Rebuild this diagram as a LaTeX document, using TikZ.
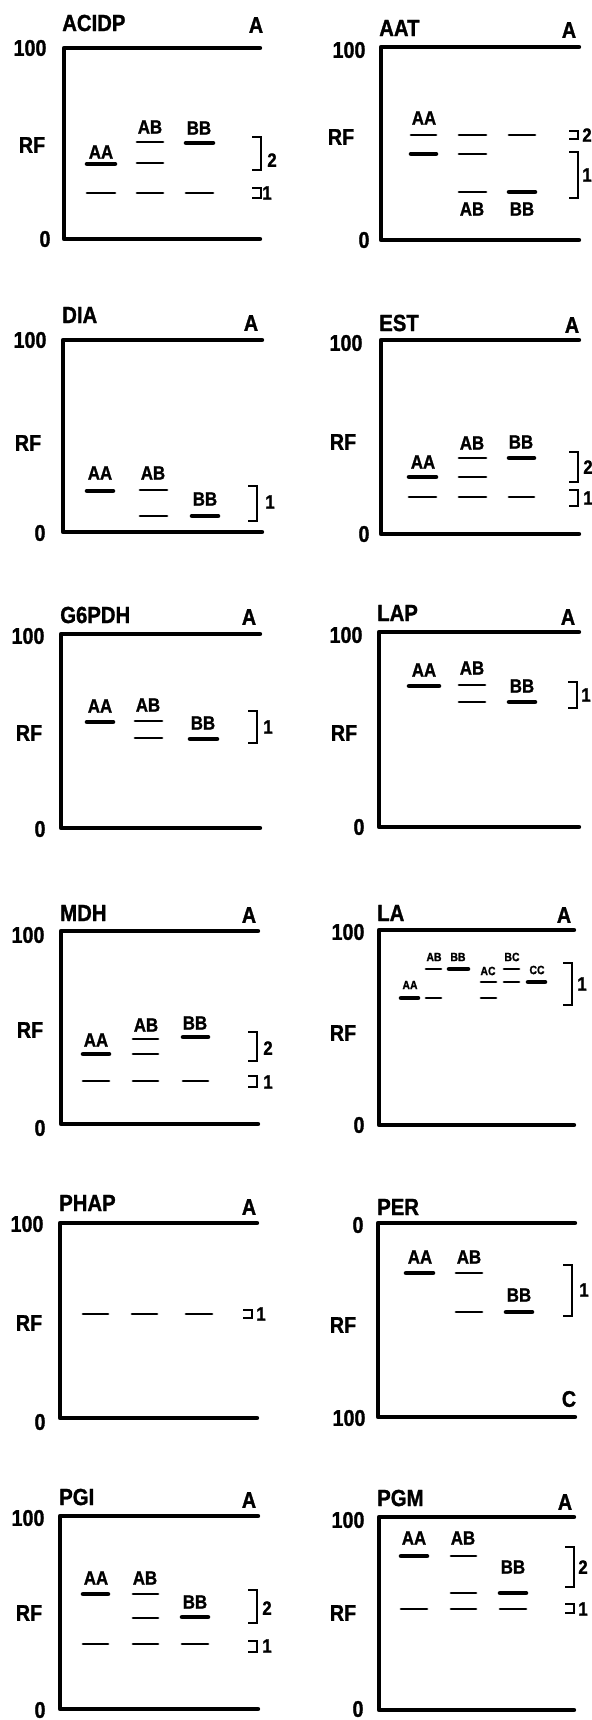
\documentclass[tikz,border=0pt]{standalone}
\usepackage{fontspec}
\setmainfont{Liberation Sans}[FakeStretch=0.87, BoldFeatures={FakeBold=1.2}]
\newcommand\fs[1]{\fontsize{#1}{#1}\selectfont\bfseries}
\tikzset{
  axis/.style={line width=3.3pt,line cap=round,line join=round},
  band/.style={line width=2.2pt,line cap=round},
  tband/.style={line width=3.4pt,line cap=round},
  brkl/.style={line width=1.6pt,line join=miter},
  ttl/.style={anchor=west,inner sep=0pt,font=\fs{17.5}},
  axl/.style={inner sep=0pt,font=\fs{17}},
  lbl/.style={inner sep=0pt,font=\fs{14.5}},
  slbl/.style={inner sep=0pt,font=\fs{9}},
  num/.style={inner sep=0pt,font=\fs{14.5}},
}
\newcommand\brk[3]{\draw[brkl] (#1,#2) -- (#1+9,#2) -- (#1+9,#3) -- (#1,#3);}
\begin{document}
\begin{tikzpicture}[x=0.75pt,y=-0.75pt]
\useasboundingbox (0,0) rectangle (592,1720);
% ---------- ACIDP
\draw[axis] (260,48) -- (64,48) -- (64,239) -- (260,239);
\node[ttl] (t1) at (62,23) {ACIDP};
\node[axl] (a1) at (256,25) {A};
\node[axl] (h1) at (30,48) {100};
\node[axl] (r1) at (32,145) {RF};
\node[axl] (z1) at (45,239) {0};
\draw[tband] (87,164) -- (115,164); \draw[band] (87,193) -- (115,193);
\draw[band] (137,142) -- (163,142); \draw[band] (137,163) -- (163,163); \draw[band] (137,193) -- (163,193);
\draw[tband] (186,143) -- (213,143); \draw[band] (186,193) -- (213,193);
\node[lbl] (l1a) at (101,152) {AA};
\node[lbl] (l1b) at (150,127) {AB};
\node[lbl] (l1c) at (199,128) {BB};
\brk{252}{137}{170} \node[num] (n1a) at (272,160) {2};
\brk{252}{188}{198} \node[num] (n1b) at (267,193) {1};
% ---------- AAT
\draw[axis] (579,47) -- (381,47) -- (381,240) -- (579,240);
\node[ttl] (t2) at (379,28) {AAT};
\node[axl] (a2) at (569,30) {A};
\node[axl] (h2) at (349,50) {100};
\node[axl] (r2) at (341,137) {RF};
\node[axl] (z2) at (364,240) {0};
\draw[band] (411,135) -- (436,135); \draw[tband] (411,154) -- (436,154);
\draw[band] (459,135) -- (486,135); \draw[band] (459,154) -- (486,154); \draw[band] (459,192) -- (486,192);
\draw[band] (509,135) -- (535,135); \draw[tband] (509,192) -- (535,192);
\node[lbl] (l2a) at (424,118) {AA};
\node[lbl] (l2b) at (472,209) {AB};
\node[lbl] (l2c) at (522,209) {BB};
\brk{569}{131}{139} \node[num] (n2a) at (587,135) {2};
\brk{569}{152}{198} \node[num] (n2b) at (587,175) {1};
% ---------- DIA
\draw[axis] (262,340) -- (63,340) -- (63,532) -- (262,532);
\node[ttl] (t3) at (62,315) {DIA};
\node[axl] (a3) at (251,323) {A};
\node[axl] (h3) at (30,340) {100};
\node[axl] (r3) at (28,443) {RF};
\node[axl] (z3) at (40,533) {0};
\draw[tband] (87,491) -- (113,491);
\draw[band] (140,490) -- (167,490); \draw[band] (140,516) -- (167,516);
\draw[tband] (192,516) -- (218,516);
\node[lbl] (l3a) at (100,473) {AA};
\node[lbl] (l3b) at (153,473) {AB};
\node[lbl] (l3c) at (205,499) {BB};
\brk{248}{486}{521} \node[num] (n3a) at (270,502) {1};
% ---------- EST
\draw[axis] (579,340) -- (381,340) -- (381,534) -- (579,534);
\node[ttl] (t4) at (379,323) {EST};
\node[axl] (a4) at (572,325) {A};
\node[axl] (h4) at (346,343) {100};
\node[axl] (r4) at (343,442) {RF};
\node[axl] (z4) at (364,534) {0};
\draw[tband] (409,477) -- (436,477); \draw[band] (409,497) -- (436,497);
\draw[band] (459,458) -- (486,458); \draw[band] (459,477) -- (486,477); \draw[band] (459,497) -- (486,497);
\draw[tband] (509,458) -- (534,458); \draw[band] (509,497) -- (534,497);
\node[lbl] (l4a) at (423,462) {AA};
\node[lbl] (l4b) at (472,443) {AB};
\node[lbl] (l4c) at (521,442) {BB};
\brk{569}{452}{482} \node[num] (n4a) at (588,467) {2};
\brk{569}{490}{506} \node[num] (n4b) at (588,498) {1};
% ---------- G6PDH
\draw[axis] (260,634) -- (61,634) -- (61,828) -- (260,828);
\node[ttl] (t5) at (60,615) {G6PDH};
\node[axl] (a5) at (249,617) {A};
\node[axl] (h5) at (28,636) {100};
\node[axl] (r5) at (29,733) {RF};
\node[axl] (z5) at (40,829) {0};
\draw[tband] (87,722) -- (113,722);
\draw[band] (135,721) -- (162,721); \draw[band] (135,738) -- (162,738);
\draw[tband] (190,739) -- (217,739);
\node[lbl] (l5a) at (100,706) {AA};
\node[lbl] (l5b) at (148,705) {AB};
\node[lbl] (l5c) at (203,723) {BB};
\brk{248}{711}{743} \node[num] (n5a) at (268,727) {1};
% ---------- LAP
\draw[axis] (579,632) -- (379,632) -- (379,827) -- (579,827);
\node[ttl] (t6) at (377,613) {LAP};
\node[axl] (a6) at (568,617) {A};
\node[axl] (h6) at (346,635) {100};
\node[axl] (r6) at (344,733) {RF};
\node[axl] (z6) at (359,827) {0};
\draw[tband] (409,686) -- (439,686);
\draw[band] (459,685) -- (485,685); \draw[band] (459,702) -- (485,702);
\draw[tband] (509,702) -- (535,702);
\node[lbl] (l6a) at (424,670) {AA};
\node[lbl] (l6b) at (472,668) {AB};
\node[lbl] (l6c) at (522,686) {BB};
\brk{568}{682}{708} \node[num] (n6a) at (586,695) {1};
% ---------- MDH
\draw[axis] (258,931) -- (61,931) -- (61,1124) -- (258,1124);
\node[ttl] (t7) at (60,913) {MDH};
\node[axl] (a7) at (249,915) {A};
\node[axl] (h7) at (28,935) {100};
\node[axl] (r7) at (30,1030) {RF};
\node[axl] (z7) at (40,1128) {0};
\draw[tband] (83,1054) -- (109,1054); \draw[band] (83,1081) -- (109,1081);
\draw[band] (133,1039) -- (158,1039); \draw[band] (133,1054) -- (158,1054); \draw[band] (133,1081) -- (158,1081);
\draw[tband] (183,1037) -- (208,1037); \draw[band] (183,1081) -- (208,1081);
\node[lbl] (l7a) at (96,1040) {AA};
\node[lbl] (l7b) at (146,1025) {AB};
\node[lbl] (l7c) at (195,1023) {BB};
\brk{248}{1032}{1061} \node[num] (n7a) at (268,1048) {2};
\brk{248}{1076}{1087} \node[num] (n7b) at (268,1082) {1};
% ---------- LA
\draw[axis] (574,930) -- (379,930) -- (379,1125) -- (574,1125);
\node[ttl] (t8) at (377,913) {LA};
\node[axl] (a8) at (564,915) {A};
\node[axl] (h8) at (348,932) {100};
\node[axl] (r8) at (343,1033) {RF};
\node[axl] (z8) at (359,1125) {0};
\draw[tband] (401,998) -- (418,998);
\draw[band] (426,969) -- (441,969); \draw[band] (426,998) -- (441,998);
\draw[tband] (449,969) -- (468,969);
\draw[band] (481,982) -- (496,982); \draw[band] (481,998) -- (496,998);
\draw[band] (504,969) -- (519,969); \draw[band] (504,982) -- (519,982);
\draw[tband] (528,982) -- (545,982);
\node[slbl] (l8a) at (410,985) {AA};
\node[slbl] (l8b) at (434,957) {AB};
\node[slbl] (l8c) at (458,957) {BB};
\node[slbl] (l8d) at (488,971) {AC};
\node[slbl] (l8e) at (512,957) {BC};
\node[slbl] (l8f) at (537,970) {CC};
\brk{563}{963}{1005} \node[num] (n8a) at (582,984) {1};
% ---------- PHAP
\draw[axis] (257,1223) -- (60,1223) -- (60,1418) -- (257,1418);
\node[ttl] (t9) at (59,1203) {PHAP};
\node[axl] (a9) at (249,1207) {A};
\node[axl] (h9) at (27,1224) {100};
\node[axl] (r9) at (29,1323) {RF};
\node[axl] (z9) at (40,1422) {0};
\draw[band] (83,1314) -- (108,1314); \draw[band] (132,1314) -- (157,1314); \draw[band] (186,1314) -- (212,1314);
\brk{243}{1310}{1318} \node[num] (n9a) at (261,1314) {1};
% ---------- PER
\draw[axis] (575,1223) -- (378,1223) -- (378,1417) -- (575,1417);
\node[ttl] (t10) at (377,1207) {PER};
\node[axl] (a10) at (569,1399) {C};
\node[axl] (h10) at (358,1225) {0};
\node[axl] (r10) at (343,1325) {RF};
\node[axl] (z10) at (349,1418) {100};
\draw[tband] (406,1273) -- (433,1273);
\draw[band] (456,1273) -- (482,1273); \draw[band] (456,1312) -- (482,1312);
\draw[tband] (506,1312) -- (532,1312);
\node[lbl] (l10a) at (420,1257) {AA};
\node[lbl] (l10b) at (469,1257) {AB};
\node[lbl] (l10c) at (519,1295) {BB};
\brk{563}{1265}{1316} \node[num] (n10a) at (584,1290) {1};
% ---------- PGI
\draw[axis] (258,1516) -- (60,1516) -- (60,1709) -- (258,1709);
\node[ttl] (t11) at (59,1497) {PGI};
\node[axl] (a11) at (249,1500) {A};
\node[axl] (h11) at (28,1518) {100};
\node[axl] (r11) at (29,1613) {RF};
\node[axl] (z11) at (40,1710) {0};
\draw[tband] (83,1594) -- (108,1594); \draw[band] (83,1644) -- (108,1644);
\draw[band] (133,1594) -- (158,1594); \draw[band] (133,1618) -- (158,1618); \draw[band] (133,1644) -- (158,1644);
\draw[tband] (182,1617) -- (208,1617); \draw[band] (182,1644) -- (208,1644);
\node[lbl] (l11a) at (96,1578) {AA};
\node[lbl] (l11b) at (145,1578) {AB};
\node[lbl] (l11c) at (195,1602) {BB};
\brk{248}{1590}{1623} \node[num] (n11a) at (267,1608) {2};
\brk{248}{1641}{1652} \node[num] (n11b) at (267,1646) {1};
% ---------- PGM
\draw[axis] (574,1517) -- (379,1517) -- (379,1710) -- (574,1710);
\node[ttl] (t12) at (377,1498) {PGM};
\node[axl] (a12) at (565,1502) {A};
\node[axl] (h12) at (348,1520) {100};
\node[axl] (r12) at (343,1613) {RF};
\node[axl] (z12) at (358,1709) {0};
\draw[tband] (401,1556) -- (427,1556); \draw[band] (401,1609) -- (427,1609);
\draw[band] (451,1556) -- (476,1556); \draw[band] (451,1593) -- (476,1593); \draw[band] (451,1609) -- (476,1609);
\draw[tband] (500,1593) -- (526,1593); \draw[band] (500,1609) -- (526,1609);
\node[lbl] (l12a) at (414,1538) {AA};
\node[lbl] (l12b) at (463,1538) {AB};
\node[lbl] (l12c) at (513,1567) {BB};
\brk{565}{1547}{1587} \node[num] (n12a) at (583,1567) {2};
\brk{565}{1604}{1613} \node[num] (n12b) at (583,1609) {1};
\end{tikzpicture}
\end{document}
